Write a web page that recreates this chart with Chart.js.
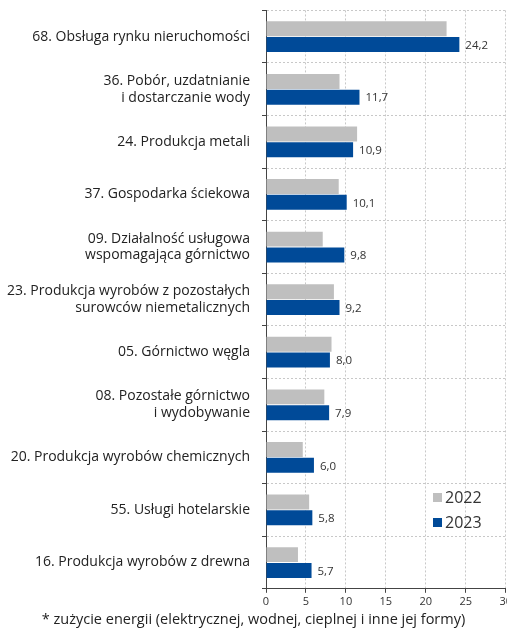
<!DOCTYPE html>
<html>
<head>
<meta charset="utf-8">
<script src="https://cdn.jsdelivr.net/npm/chart.js@4"></script>
<style>
  html, body { margin: 0; padding: 0; background: #fff; overflow: hidden; }
  #wrap { position: relative; width: 514px; height: 620px; margin-top: -10px; }
  #note {
    position: absolute; left: 0; top: 609px; width: 507px; text-align: center;
    font-family: "Open Sans", sans-serif; font-size: 14.5px; color: #222;
  }
</style>
</head>
<body>
<div id="wrap"><canvas id="myChart"></canvas></div>
<div id="note">* zużycie energii (elektrycznej, wodnej, cieplnej i inne jej formy)</div>
<script>
const categories = [
    '68. Obsługa rynku nieruchomości',
    ['36. Pobór, uzdatnianie', 'i dostarczanie wody'],
    '24. Produkcja metali',
    '37. Gospodarka ściekowa',
    ['09. Działalność usługowa', 'wspomagająca górnictwo'],
    ['23. Produkcja wyrobów z pozostałych', 'surowców niemetalicznych'],
    '05. Górnictwo węgla',
    ['08. Pozostałe górnictwo', 'i wydobywanie'],
    '20. Produkcja wyrobów chemicznych',
    '55. Usługi hotelarskie',
    '16. Produkcja wyrobów z drewna'
];
const values2022 = [22.6, 9.2, 11.4, 9.1, 7.1, 8.5, 8.2, 7.3, 4.6, 5.4, 4.0];
const values2023 = [24.2, 11.7, 10.9, 10.1, 9.8, 9.2, 8.0, 7.9, 6.0, 5.8, 5.7];
const seriesNames = ['2022', '2023'];
const xTicks = [0, 5, 10, 15, 20, 25, 30];

const FONT = '"Open Sans", sans-serif';

// value labels next to the 2023 bars
const valueLabels = {
    id: 'valueLabels',
    afterDatasetsDraw(chart) {
        const ctx = chart.ctx;
        const meta = chart.getDatasetMeta(1);
        ctx.save();
        ctx.font = '11.5px ' + FONT;
        ctx.fillStyle = '#333';
        ctx.textAlign = 'left';
        ctx.textBaseline = 'middle';
        meta.data.forEach((bar, i) => {
            const txt = values2023[i].toFixed(1).replace('.', ',');
            ctx.fillText(txt, bar.x + 6, bar.y + 1);
        });
        ctx.restore();
    }
};

// legend drawn inside the plot, lower right
const innerLegend = {
    id: 'innerLegend',
    afterDraw(chart) {
        const ctx = chart.ctx;
        const x = 433, y0 = 507, gap = 25;
        ctx.save();
        ctx.font = '16px ' + FONT;
        ctx.textBaseline = 'middle';
        chart.data.datasets.forEach((ds, i) => {
            const y = y0 + i * gap;
            ctx.fillStyle = ds.backgroundColor;
            ctx.fillRect(x, y - 4, 9, 9);
            ctx.fillStyle = '#333';
            ctx.fillText(ds.label, x + 12, y + 1);
        });
        ctx.restore();
    }
};

const ctx = document.getElementById('myChart').getContext('2d');
new Chart(ctx, {
    type: 'bar',
    data: {
        labels: categories,
        datasets: [
            { label: seriesNames[0], data: values2022, backgroundColor: '#bfbfbf' },
            { label: seriesNames[1], data: values2023, backgroundColor: '#004a98' }
        ]
    },
    options: {
        indexAxis: 'y',
        responsive: true,
        maintainAspectRatio: false,
        animation: false,
        layout: { padding: 0 },
        datasets: {
            bar: { categoryPercentage: 0.6, barPercentage: 0.95 }
        },
        scales: {
            x: {
                min: 0, max: 30,
                afterBuildTicks(scale) { scale.ticks = xTicks.map(v => ({ value: v })); },
                ticks: { font: { family: FONT, size: 11 }, color: '#333', padding: 2 },
                grid: { color: '#c8c8c8', tickColor: '#444', tickLength: 4, tickBorderDash: [] },
                border: { display: true, color: '#444', width: 1, dash: [2, 2] }
            },
            y: {
                afterFit(scale) { scale.width = 266; },
                ticks: { font: { family: FONT, size: 14 }, color: '#222', padding: 12, autoSkip: false },
                grid: { color: '#c8c8c8', tickColor: '#444', tickLength: 4, tickBorderDash: [] },
                border: { display: true, color: '#444', width: 1, dash: [2, 2] }
            }
        },
        plugins: {
            legend: { display: false },
            tooltip: { enabled: false }
        }
    },
    plugins: [valueLabels, innerLegend]
});
</script>
</body>
</html>
